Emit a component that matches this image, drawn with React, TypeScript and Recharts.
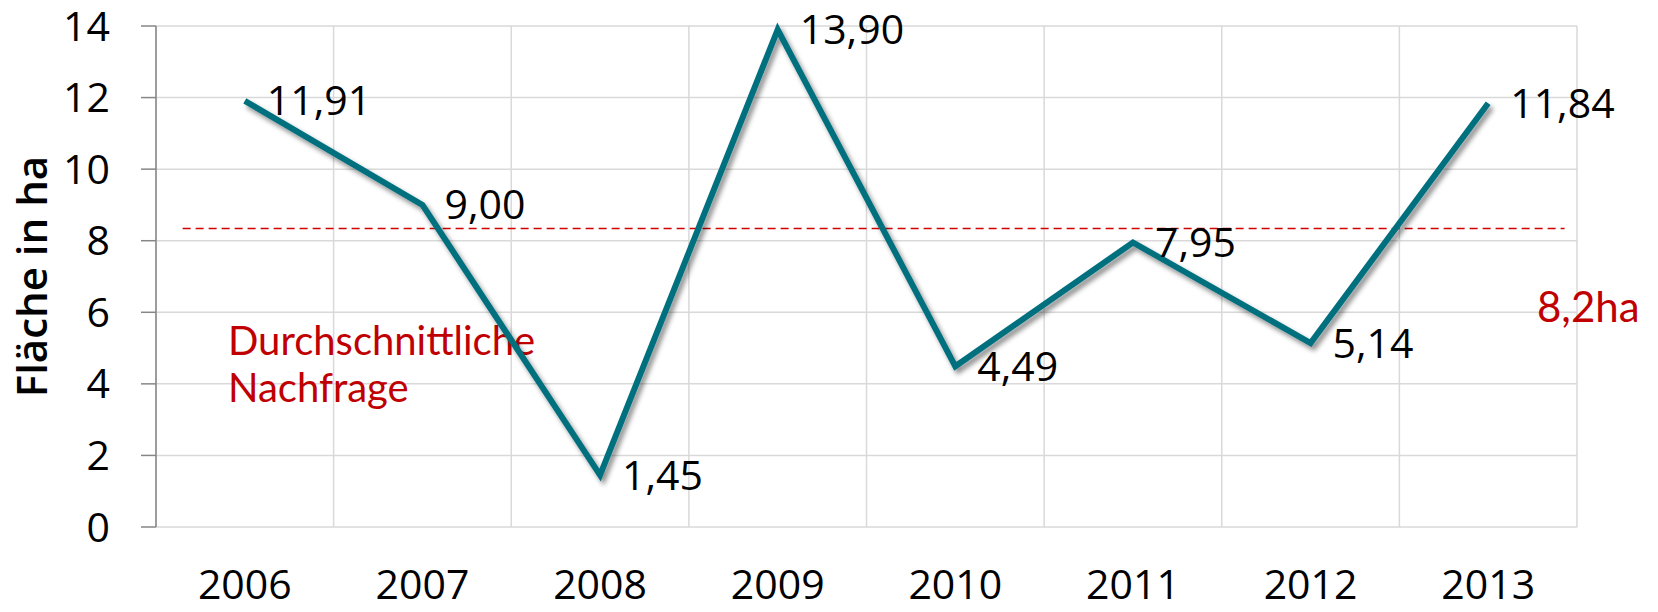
import React from "react";
import {
  CartesianGrid,
  LabelList,
  Line,
  LineChart,
  ReferenceLine,
  XAxis,
  YAxis,
} from "recharts";

const years = ["2006", "2007", "2008", "2009", "2010", "2011", "2012", "2013"];
const flaeche = [11.91, 9.0, 1.45, 13.9, 4.49, 7.95, 5.14, 11.84];
const yTicks = [0, 2, 4, 6, 8, 10, 12, 14];
// boundaries between the year bands, used for the vertical grid and tick marks
const bandEdges = [0, 1, 2, 3, 4, 5, 6, 7, 8];

// average demand line (drawn value) and where the dashed line starts/ends in band units
const durchschnitt = 8.34;
const durchschnittVon = 0.15;
const durchschnittBis = 7.93;

// pos = middle of each year's band on the 0..8 edge axis
const data = years.map((year, i) => ({ year, pos: i + 0.5, value: flaeche[i] }));

const FONT = "'Open Sans', 'Noto Sans', sans-serif";
const RED_FONT = "Lato, 'Open Sans', sans-serif";
const RED = "#c00000";
const AXIS = "#868686";

const fmt = (v: number) => v.toFixed(2).replace(".", ",");

export default function App() {
  return (
    <div style={{ position: "absolute", left: 0, top: 0, background: "#fff" }}>
      <LineChart
        width={1658}
        height={612}
        data={data}
        margin={{ top: 26, right: 81, bottom: 0, left: 0 }}
      >
        <defs>
          <filter id="lineShadow" x="-10%" y="-10%" width="120%" height="130%">
            <feDropShadow dx="3" dy="4" stdDeviation="2.5" floodColor="#000" floodOpacity="0.45" />
          </filter>
        </defs>
        <CartesianGrid xAxisId="grid" stroke="#d9d9d9" strokeWidth={1.5} />
        <XAxis
          xAxisId="grid"
          dataKey="pos"
          type="number"
          domain={[0, 8]}
          allowDataOverflow
          ticks={bandEdges}
          height={0}
          tickFormatter={() => ""}
          tickSize={15}
          stroke={AXIS}
          strokeWidth={1.5}
        />
        <XAxis
          xAxisId="cat"
          dataKey="year"
          scale="band"
          height={85}
          axisLine={false}
          tickLine={false}
          tickSize={0}
          tickMargin={43}
          interval={0}
          tick={{ fontSize: 41, fill: "#000", fontFamily: FONT }}
        />
        <YAxis
          domain={[0, 14]}
          ticks={yTicks}
          width={156}
          tickSize={15}
          tickMargin={31}
          stroke={AXIS}
          strokeWidth={1.5}
          tick={{ fontSize: 41, fill: "#000", fontFamily: FONT }}
          label={{
            value: "Fläche in ha",
            angle: -90,
            position: "center",
            dx: -46,
            style: { fontSize: 42, fontWeight: 600, fill: "#000", fontFamily: FONT },
          }}
        />
        <text x={228} y={355} fill={RED} fontSize={40} fontFamily={RED_FONT}>
          Durchschnittliche
        </text>
        <text x={228} y={402} fill={RED} fontSize={40} fontFamily={RED_FONT}>
          Nachfrage
        </text>
        <text x={1537} y={322} fill={RED} fontSize={42} fontFamily={RED_FONT}>
          8,2ha
        </text>
        <ReferenceLine
          xAxisId="grid"
          segment={[
            { x: durchschnittVon, y: durchschnitt },
            { x: durchschnittBis, y: durchschnitt },
          ]}
          stroke="#d00000"
          strokeWidth={1.5}
          strokeDasharray="8 5"
        />
        <Line
          xAxisId="cat"
          dataKey="value"
          stroke="#00707f"
          strokeWidth={6}
          dot={false}
          filter="url(#lineShadow)"
          isAnimationActive={false}
        >
          <LabelList
            dataKey="value"
            position="right"
            offset={22}
            formatter={(v: number) => fmt(v)}
            style={{ fontSize: 41, fill: "#000", fontFamily: FONT }}
          />
        </Line>
      </LineChart>
    </div>
  );
}
